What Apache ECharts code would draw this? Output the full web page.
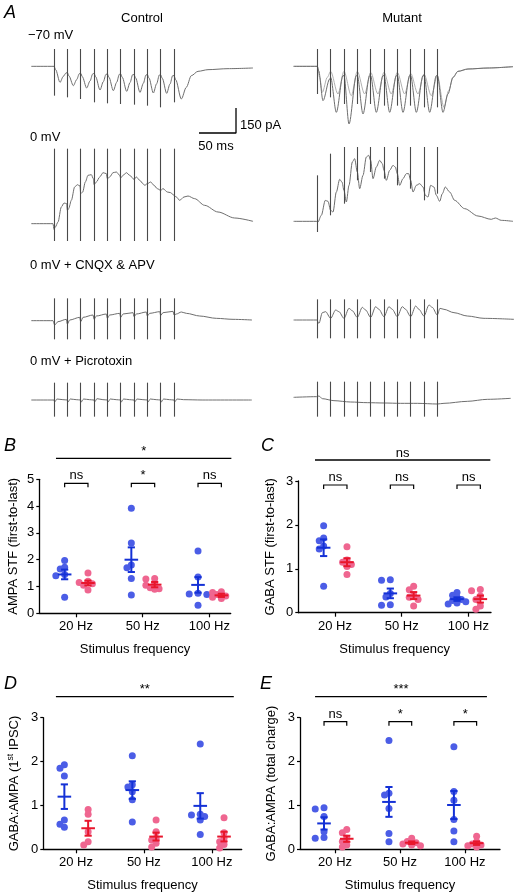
<!DOCTYPE html>
<html><head><meta charset="utf-8">
<script src="https://cdn.jsdelivr.net/npm/echarts@6/dist/echarts.min.js"></script>
<style>html,body{margin:0;padding:0;background:#fff}#c{width:515px;height:892px}</style>
</head><body><div id="c"></div>
<script>
// ---------------- DATA ----------------
// Panel A: stimulus times (ms) and traces as [time ms, current pA]
const STIM_T = [0, 18, 36, 54, 72, 90, 108, 126, 144, 162];

const CTRL_M70 = [[-30.6,0],[0,0],[2.2,-20],[8.1,-96],[12.6,-60],[16.2,-40],
 [18,-38],[20.2,-58],[26.1,-116],[30.6,-80],[34.2,-44],
 [36,-42],[38.2,-62],[44.1,-130],[48.6,-88],[52.2,-46],
 [54,-42],[56.2,-62],[62.1,-142],[66.6,-92],[70.2,-48],
 [72,-46],[74.2,-66],[80.1,-146],[84.6,-96],[88.2,-48],
 [90,-46],[92.2,-66],[98.1,-150],[102.6,-98],[106.2,-50],
 [108,-50],[110.2,-70],[116.1,-156],[120.6,-102],[124.2,-52],
 [126,-50],[128.2,-70],[134.1,-160],[138.6,-104],[142.2,-52],
 [144,-52],[146.2,-72],[152.1,-162],[156.6,-106],[160.2,-56],
 [162,-56],[164.2,-80],[171.9,-196],[178.6,-126],[185.4,-56],[194.4,-30],[207.9,-20],[234.9,-14],[268.6,-10]];
const CTRL_M70_TOP = [104,104,104,104,104,104,104,104,104,104];
const CTRL_M70_BOT = [-176,-186,-196,-216,-222,-226,-230,-236,-246,-216];

const MUT_M70_A = [[-32,0],[0,0],[1.8,-26],[7.7,-206],[16.7,-76],[18,-66],[25.7,-276],[34.7,-56],[36,-56],
 [42.8,-346],[52.7,-56],[54,-56],[61.7,-286],[70.7,-56],[72,-56],[79.7,-276],[88.7,-56],[90,-56],
 [97.7,-276],[106.7,-56],[108,-56],[115.7,-276],[124.7,-56],[126,-56],[133.7,-276],[142.7,-56],[144,-56],
 [151.7,-276],[160.7,-56],[162,-56],[169.7,-276],[176.4,-166],[183.2,-66],[189.9,-30],[203.4,-16],[230.4,-10],[264.2,-2]];
const MUT_M70_B = [[-32,0],[0,0],[3.2,-66],[6.8,-156],[13.5,-66],[18,-30],[27.9,-166],[36,-30],[45.9,-176],
 [54,-30],[63.9,-166],[72,-36],[81.9,-166],[90,-36],[99.9,-166],[108,-36],[117.9,-166],[126,-42],
 [135.9,-166],[144,-46],[153.9,-176],[162,-56],[171,-246],[177.3,-146],[183.2,-66],[189.9,-30],[203.4,-16],[230.4,-10],[264.2,-2]];
const MUT_M70_TOP = [104,104,104,104,104,104,104,104,104,104];
const MUT_M70_BOT = [-166,-186,-226,-226,-226,-236,-236,-236,-246,-246];

const CTRL_0 = [[-30.6,0],[-1.4,0],[0,-34],[1.8,-20],[5.4,10],[9.9,100],[13.5,124],[17.1,120],[18,80],[19.8,90],
 [23.4,140],[27.9,220],[31.5,234],[35.1,226],[36,180],[38.7,190],[42.3,250],[45.9,290],[50.4,294],[53.1,270],
 [54,234],[57.2,250],[61.7,280],[66.2,306],[70.7,300],[72,270],[75.2,280],[79.7,306],[84.2,310],[88.7,290],
 [90,274],[93.2,290],[97.7,306],[102.2,290],[108,266],[111.2,280],[115.7,260],[120.2,240],[122.4,230],[126,240],
 [130.5,250],[135,230],[139.5,210],[144,200],[147.2,210],[153,190],[157.5,186],[162,170],[165.2,160],[169.6,140],
 [175.5,160],[180.9,166],[189.9,150],[203.4,110],[221.4,70],[243.9,34],[268.7,14]];
const CTRL_0_TOP = [450,450,450,450,450,450,450,450,450,450];
const CTRL_0_BOT = [-104,-104,-104,-104,-104,-104,-104,-104,-104,-104];

const MUT_0 = [[-32,14],[-1.4,14],[0.9,10],[5.4,50],[10.8,140],[14.4,134],[18,80],[21.2,70],[25.7,190],[30.2,266],
 [33.3,250],[36,200],[39.2,130],[42.8,230],[47.3,370],[50.4,390],[54,310],[57.2,210],[61.7,290],[66.2,400],
 [69.3,410],[72,380],[75.2,270],[79.7,340],[84.2,380],[87.8,360],[90,320],[93.2,260],[97.7,320],[102.2,350],
 [105.3,340],[108,300],[111.2,230],[115.7,270],[120.2,300],[123.3,300],[126,260],[129.2,190],[133.7,230],[138.2,240],
 [142.7,220],[145.8,170],[149.4,160],[153,230],[157.5,220],[160.7,170],[165.2,134],[168.8,180],[172.8,220],[178.7,190],
 [185.4,140],[198.9,90],[216.9,46],[234.9,26],[240.3,34],[248.4,20],[264.2,14]];
const MUT_0_TOP = [290,420,460,460,460,460,460,460,460,460];
const MUT_0_BOT = [-50,50,120,260,310,270,230,210,140,180];

const CTRL_CNQX = [[-30.6,0],[-1.35,0],[0.9,-26],[5.4,-6],[16.6,8],[18,-20],[21.2,4],[34.7,20],[36,-6],[39.2,20],
 [52.7,34],[54,8],[57.2,28],[70.7,40],[72,14],[75.2,34],[88.7,44],[90,20],[93.2,40],[106.7,48],[108,24],[111.2,40],
 [124.7,52],[126,28],[129.2,44],[142.7,54],[144,32],[147.2,48],[160.7,56],[162,34],[165.2,40],[171.9,52],[178.7,44],
 [196.7,28],[219.2,14],[241.7,8],[267.3,4]];
const CTRL_CNQX_TOP = [134,134,134,134,134,134,134,134,134,134];
const CTRL_CNQX_BOT = [-112,-112,-112,-112,-112,-112,-112,-112,-112,-112];

const MUT_CNQX = [[-32,4],[-0.9,4],[2.2,-16],[6.8,48],[11.2,54],[18,14],[24.8,64],[29.2,54],[36,14],[42.8,74],
 [47.2,60],[54,20],[60.8,80],[65.2,64],[72,20],[78.8,84],[83.2,68],[90,24],[96.8,84],[101.2,68],[108,24],
 [114.8,84],[119.2,68],[126,24],[132.8,88],[137.2,68],[144,28],[150.8,94],[155.2,80],[162,34],[165.6,74],
 [171,68],[184.5,48],[202.5,28],[225,14],[265.5,8]];
const MUT_CNQX_TOP = [128,128,128,128,128,128,128,128,128,128];
const MUT_CNQX_BOT = [-106,-106,-106,-106,-106,-106,-106,-106,-106,-106];

const CTRL_PTX = [[-30.6,0],[0,0],[0.9,-12],[4,6],[12,2],[18,0],[18.9,-12],[22,6],[30,2],[36,0],[36.9,-12],[40,6],[48,2],
 [54,0],[54.9,-12],[58,8],[66,2],[72,0],[72.9,-12],[76,6],[84,2],[90,0],[90.9,-12],[94,6],[102,2],[108,0],[108.9,-12],
 [112,6],[120,2],[126,0],[126.9,-12],[130,6],[138,2],[144,0],[144.9,-12],[148,6],[156,2],[162,0],[162.9,-12],[166,6],
 [175,2],[200,0],[267,0]];
const CTRL_PTX_TOP = [104,104,104,104,104,104,104,104,104,104];
const CTRL_PTX_BOT = [-100,-100,-100,-100,-100,-100,-100,-100,-100,-100];

const MUT_PTX = [[-32,16],[-0.9,20],[2.2,24],[6.8,8],[22.5,-4],[45,-12],[67.5,-16],[90,-18],[112.5,-20],[135,-20],
 [162,-24],[171,-20],[202.5,-8],[229.5,4],[261,10]];
const MUT_PTX_TOP = [110,110,110,110,110,110,110,110,110,110];
const MUT_PTX_BOT = [-100,-100,-100,-100,-100,-100,-100,-100,-100,-100];

const SCALE_MS = 50, SCALE_PA = 150;

// Panels B-E
const FREQS = ['20 Hz', '50 Hz', '100 Hz'];

const B_CTRL = [[1.97,1.72,1.65,1.45,1.40,0.60],[3.92,2.62,1.80,1.70,1.30,0.68],[2.32,1.35,0.75,0.72,0.70,0.30]];
const B_MUT  = [[1.50,1.20,1.15,1.10,1.05,0.87],[1.30,1.28,1.10,1.05,0.95,0.92,0.90],[0.80,0.78,0.70,0.65,0.60,0.55]];
const B_CTRL_MEAN = [1.45, 2.00, 1.06], B_CTRL_SEM = [0.18, 0.46, 0.29];
const B_MUT_MEAN  = [1.13, 1.07, 0.67], B_MUT_SEM  = [0.09, 0.10, 0.06];

const C_CTRL = [[1.98,1.70,1.64,1.52,1.45,0.60],[0.75,0.74,0.44,0.36,0.18,0.17],[0.46,0.40,0.35,0.30,0.28,0.25,0.22,0.20]];
const C_MUT  = [[1.50,1.20,1.15,1.10,1.05,0.87],[0.60,0.52,0.40,0.35,0.30,0.15],[0.53,0.50,0.38,0.30,0.15,0.08]];
const C_CTRL_MEAN = [1.48, 0.44, 0.31], C_CTRL_SEM = [0.19, 0.11, 0.04];
const C_MUT_MEAN  = [1.15, 0.39, 0.31], C_MUT_SEM  = [0.09, 0.08, 0.08];

const D_CTRL = [[1.93,1.85,1.67,0.67,0.57,0.50],[2.13,1.47,1.42,1.31,1.13,0.62],[2.40,0.80,0.78,0.75,0.67,0.34]];
const D_MUT  = [[0.91,0.80,0.40,0.17,0.10],[0.67,0.40,0.25,0.21,0.14,0.05],[0.72,0.38,0.25,0.17,0.11,0.03]];
const D_CTRL_MEAN = [1.20, 1.35, 0.99], D_CTRL_SEM = [0.28, 0.20, 0.29];
const D_MUT_MEAN  = [0.48, 0.29, 0.29], D_MUT_SEM  = [0.17, 0.09, 0.11];

const E_CTRL = [[0.95,0.92,0.75,0.40,0.27,0.25],[2.48,1.28,1.24,0.93,0.36,0.17],[2.34,1.32,1.12,0.68,0.42,0.17]];
const E_MUT  = [[0.45,0.38,0.25,0.18,0.10,0.05],[0.25,0.18,0.15,0.12,0.10,0.08],[0.30,0.17,0.12,0.10,0.08,0.05]];
const E_CTRL_MEAN = [0.59, 1.08, 1.01], E_CTRL_SEM = [0.14, 0.34, 0.32];
const E_MUT_MEAN  = [0.24, 0.15, 0.14], E_MUT_SEM  = [0.07, 0.03, 0.04];

const B_SIG = '*',   B_BRACKETS = ['ns', '*', 'ns'];
const C_SIG = 'ns',  C_BRACKETS = ['ns', 'ns', 'ns'];
const D_SIG = '**',  D_BRACKETS = [];
const E_SIG = '***', E_BRACKETS = ['ns', '*', '*'];

// ---------------- STYLE / LAYOUT ----------------
const FONT = '"Liberation Sans", Arial, Helvetica, sans-serif';
const TRACE = '#6e6e6e', TRACE_LIGHT = '#b0b0b0', ART = '#4a4a4a';
const BLUE_PT = '#4b5de6', RED_PT = '#ef6690', BLUE_LN = '#1431d6', RED_LN = '#e8162c';
const PA_PER_PX = 6, MS_PER_PX = 1.35;
const BLUE_OFF = -0.17, RED_OFF = 0.18;

const grid = [], xAxis = [], yAxis = [], series = [];

// trace rows: [top, ymin, ymax]
const ROWS = [[40, -420, 158], [140, -150, 502], [290, -180, 184], [375, -150, 150]];
const COLS = [{left: 30.3, xmin: -32, xmax: 270}, {left: 293.6, xmin: -32, xmax: 267}];
const TRACES = [
  [[CTRL_M70, CTRL_M70_TOP, CTRL_M70_BOT]], [[MUT_M70_B, null, null, TRACE_LIGHT], [MUT_M70_A, MUT_M70_TOP, MUT_M70_BOT]],
  [[CTRL_0, CTRL_0_TOP, CTRL_0_BOT]], [[MUT_0, MUT_0_TOP, MUT_0_BOT]],
  [[CTRL_CNQX, CTRL_CNQX_TOP, CTRL_CNQX_BOT]], [[MUT_CNQX, MUT_CNQX_TOP, MUT_CNQX_BOT]],
  [[CTRL_PTX, CTRL_PTX_TOP, CTRL_PTX_BOT]], [[MUT_PTX, MUT_PTX_TOP, MUT_PTX_BOT]]
];
let gi = 0;
ROWS.forEach((r, ri) => {
  COLS.forEach((c, ci) => {
    grid.push({left: c.left, top: r[0], width: (c.xmax - c.xmin) / MS_PER_PX, height: (r[2] - r[1]) / PA_PER_PX, outerBoundsMode: 'none'});
    xAxis.push({gridIndex: gi, type: 'value', min: c.xmin, max: c.xmax, show: false});
    yAxis.push({gridIndex: gi, type: 'value', min: r[1], max: r[2], show: false});
    TRACES[ri * 2 + ci].forEach(tr => {
      const s = {type: 'line', xAxisIndex: gi, yAxisIndex: gi, data: tr[0], symbol: 'none', showSymbol: false,
        smooth: 0.3, smoothMonotone: 'x', animation: false, silent: true,
        lineStyle: {color: tr[3] || TRACE, width: 1}, z: 2};
      if (tr[1]) {
        s.markLine = {silent: true, symbol: ['none', 'none'], animation: false, label: {show: false},
          lineStyle: {color: ART, width: 1.1, type: 'solid'}, emphasis: {disabled: true},
          data: STIM_T.map((t, i) => [{coord: [t, tr[1][i]]}, {coord: [t, tr[2][i]]}])};
      }
      series.push(s);
    });
    gi++;
  });
});
// scale bar in the control -70 mV grid
const SB_X = 245.7, SB_Y = -400;
series.push({type: 'line', xAxisIndex: 0, yAxisIndex: 0, symbol: 'none', animation: false, silent: true,
  data: [[SB_X - SCALE_MS, SB_Y], [SB_X, SB_Y], [SB_X, SB_Y + SCALE_PA]], lineStyle: {color: '#000', width: 1.3}});

// scatter panels
const PANELS = [
  {left: 39.3, top: 479.3, width: 191.4, height: 134, xmin: 0.45, xmax: 3.32, ymax: 5, name: 'AMPA STF (first-to-last)', gap: 19,
   ctrl: B_CTRL, mut: B_MUT, cm: B_CTRL_MEAN, cs: B_CTRL_SEM, mm: B_MUT_MEAN, ms: B_MUT_SEM, sig: B_SIG, br: B_BRACKETS},
  {left: 298.3, top: 481, width: 192.7, height: 131.7, xmin: 0.45, xmax: 3.34, ymax: 3, name: 'GABA STF (first-to-last)', gap: 21,
   ctrl: C_CTRL, mut: C_MUT, cm: C_CTRL_MEAN, cs: C_CTRL_SEM, mm: C_MUT_MEAN, ms: C_MUT_SEM, sig: C_SIG, br: C_BRACKETS},
  {left: 43.3, top: 717.7, width: 198.4, height: 131.6, xmin: 0.52, xmax: 3.44, ymax: 3, name: 'GABA:AMPA (1{s|st} IPSC)', gap: 21,
   ctrl: D_CTRL, mut: D_MUT, cm: D_CTRL_MEAN, cs: D_CTRL_SEM, mm: D_MUT_MEAN, ms: D_MUT_SEM, sig: D_SIG, br: D_BRACKETS},
  {left: 300, top: 717.7, width: 200, height: 131.6, xmin: 0.46, xmax: 3.54, ymax: 3, name: 'GABA:AMPA (total charge)', gap: 22,
   ctrl: E_CTRL, mut: E_MUT, cm: E_CTRL_MEAN, cs: E_CTRL_SEM, mm: E_MUT_MEAN, ms: E_MUT_SEM, sig: E_SIG, br: E_BRACKETS}
];

// deterministic dodge so overlapping dots sit side by side
function swarm(vals, center, pxX, pxY) {
  const D = 4.6, STEP = 4.4, placed = [], out = [];
  vals.forEach(v => {
    let best = null;
    for (const k of [0, -1, 1, -2, 2]) {
      const dx = k * STEP;
      if (placed.every(p => Math.hypot(p.dx - dx, (p.v - v) * pxY) >= D)) { best = dx; break; }
    }
    if (best === null) best = 0;
    placed.push({dx: best, v}); out.push([center + best / pxX, v]);
  });
  return out;
}
function meanSem(color) {
  return function (params, api) {
    const x = api.value(0), m = api.value(1), s = api.value(2);
    const c = api.coord([x, m]), t = api.coord([x, m + s]), b = api.coord([x, m - s]);
    const st = {stroke: color, lineWidth: 2};
    return {type: 'group', children: [
      {type: 'line', shape: {x1: c[0] - 6.8, y1: c[1], x2: c[0] + 6.8, y2: c[1]}, style: st},
      {type: 'line', shape: {x1: t[0], y1: t[1], x2: b[0], y2: b[1]}, style: st},
      {type: 'line', shape: {x1: t[0] - 3.6, y1: t[1], x2: t[0] + 3.6, y2: t[1]}, style: st},
      {type: 'line', shape: {x1: b[0] - 3.6, y1: b[1], x2: b[0] + 3.6, y2: b[1]}, style: st}
    ]};
  };
}
function sigRender(p) {
  return function (params, api) {
    const cs = params.coordSys;
    const ch = [];
    const ly = cs.y - 21;
    const x1 = api.coord([1, 0])[0] - 20, x2 = api.coord([3, 0])[0] + 22;
    ch.push({type: 'line', shape: {x1, y1: ly, x2, y2: ly}, style: {stroke: '#000', lineWidth: 1.3}});
    ch.push({type: 'text', style: {text: p.sig, x: (x1 + x2) / 2, y: ly - 7, textAlign: 'center', textVerticalAlign: 'middle',
      font: '13px ' + FONT, fill: '#000'}});
    p.br.forEach((lab, i) => {
      const a = api.coord([i + 1 + BLUE_OFF, 0])[0], b = api.coord([i + 1 + RED_OFF, 0])[0];
      const by = cs.y + 4;
      ch.push({type: 'polyline', shape: {points: [[a, by + 4], [a, by], [b, by], [b, by + 4]]}, style: {stroke: '#000', lineWidth: 1.2, fill: null}});
      ch.push({type: 'text', style: {text: lab, x: (a + b) / 2, y: by - 7.5, textAlign: 'center', textVerticalAlign: 'middle',
        font: '13px ' + FONT, fill: '#000'}});
    });
    return {type: 'group', children: ch};
  };
}

PANELS.forEach(p => {
  grid.push({left: p.left, top: p.top, width: p.width, height: p.height, outerBoundsMode: 'none'});
  const pxX = p.width / (p.xmax - p.xmin), pxY = p.height / p.ymax;
  xAxis.push({gridIndex: gi, type: 'value', min: p.xmin, max: p.xmax, splitLine: {show: false},
    name: 'Stimulus frequency', nameLocation: 'middle', nameGap: 30,
    nameTextStyle: {fontFamily: FONT, fontSize: 13, color: '#000'},
    axisLine: {show: true, onZero: false, lineStyle: {color: '#000', width: 1.3}},
    axisTick: {show: true, length: 4, customValues: [1, 2, 3], lineStyle: {color: '#000', width: 1.2}},
    axisLabel: {customValues: [1, 2, 3], formatter: v => FREQS[Math.round(v) - 1], margin: 7,
      fontFamily: FONT, fontSize: 13, color: '#000'}});
  yAxis.push({gridIndex: gi, type: 'value', min: 0, max: p.ymax, interval: 1, splitLine: {show: false},
    name: p.name, nameLocation: 'middle', nameGap: p.gap, nameRotate: 90, nameMoveOverlap: false,
    nameTextStyle: {fontFamily: FONT, fontSize: 13, color: '#000', rich: {s: {fontSize: 8.5, fontFamily: FONT, color: '#000', padding: [0, 0, 7, 0]}}},
    axisLine: {show: true, lineStyle: {color: '#000', width: 1.3}},
    axisTick: {show: true, length: 3, lineStyle: {color: '#000', width: 1.2}},
    axisLabel: {margin: 5, fontFamily: FONT, fontSize: 13, color: '#000'}});
  const cPts = [], mPts = [];
  p.ctrl.forEach((vals, i) => cPts.push(...swarm(vals, i + 1 + BLUE_OFF, pxX, pxY)));
  p.mut.forEach((vals, i) => mPts.push(...swarm(vals, i + 1 + RED_OFF, pxX, pxY)));
  series.push({type: 'scatter', xAxisIndex: gi, yAxisIndex: gi, data: cPts, symbolSize: 7, animation: false, silent: true,
    itemStyle: {color: BLUE_PT, opacity: 1}, z: 3});
  series.push({type: 'scatter', xAxisIndex: gi, yAxisIndex: gi, data: mPts, symbolSize: 7, animation: false, silent: true,
    itemStyle: {color: RED_PT, opacity: 1}, z: 3});
  series.push({type: 'custom', xAxisIndex: gi, yAxisIndex: gi, renderItem: meanSem(BLUE_LN), animation: false, silent: true, z: 4,
    encode: {x: 0, y: 1}, data: p.cm.map((m, i) => [i + 1 + BLUE_OFF, m, p.cs[i]])});
  series.push({type: 'custom', xAxisIndex: gi, yAxisIndex: gi, renderItem: meanSem(RED_LN), animation: false, silent: true, z: 4,
    encode: {x: 0, y: 1}, data: p.mm.map((m, i) => [i + 1 + RED_OFF, m, p.ms[i]])});
  series.push({type: 'custom', xAxisIndex: gi, yAxisIndex: gi, renderItem: sigRender(p), animation: false, silent: true, z: 4,
    clip: false, encode: {x: 0, y: 1}, data: [[1, 0]]});
  gi++;
});

function txt(text, x, y, size, opts) {
  return Object.assign({type: 'text', x, y, silent: true,
    style: {text, font: (opts && opts.italic ? 'italic ' : '') + size + 'px ' + FONT, fill: '#000',
      textAlign: (opts && opts.align) || 'left', textVerticalAlign: 'middle'}});
}
const graphic = [
  txt('A', 4, 13, 18, {italic: true}),
  txt('Control', 142, 18, 13, {align: 'center'}),
  txt('Mutant', 402, 18, 13, {align: 'center'}),
  txt('\u221270 mV', 28, 35, 13),
  txt('150 pA', 240, 125, 13),
  txt('0 mV', 30, 137, 13),
  txt('50 ms', 216, 146, 13, {align: 'center'}),
  txt('0 mV + CNQX & APV', 30, 265, 13),
  txt('0 mV + Picrotoxin', 30, 361, 13),
  txt('B', 4, 446, 18, {italic: true}),
  txt('C', 261, 446, 18, {italic: true}),
  txt('D', 4, 684, 18, {italic: true}),
  txt('E', 260, 684, 18, {italic: true})
];

const chart = echarts.init(document.getElementById('c'), null, {renderer: 'canvas'});
chart.setOption({backgroundColor: '#fff', animation: false, grid, xAxis, yAxis, series, graphic});
</script></body></html>
